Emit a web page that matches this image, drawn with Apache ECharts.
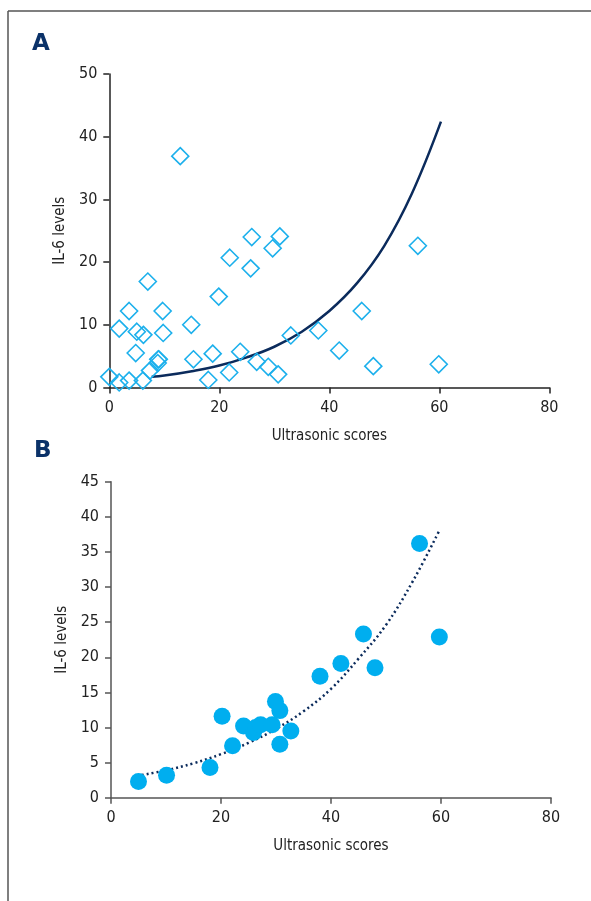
<!DOCTYPE html>
<html><head><meta charset="utf-8">
<script src="https://cdn.jsdelivr.net/npm/echarts@6/dist/echarts.min.js"></script>
<style>html,body{margin:0;padding:0;background:#fff}#c{width:591px;height:901px}</style>
</head><body><div id="c"></div>
<script>
// Panel A: ultrasonic score vs IL-6 (all points)
const aX = [0,1.8,3.6,6.1,1.8,3.6,5.0,6.2,4.8,7.0,7.4,8.9,8.8,9.0,9.7,9.8,12.9,14.9,15.3,18.0,18.8,19.9,21.8,21.9,23.8,25.7,25.9,26.8,28.9,29.7,30.7,31.0,33.0,38.0,41.8,45.9,48.0,56.1,59.9];
const aY = [1.7,0.8,1.1,1.1,9.4,12.2,8.9,8.4,5.5,16.9,2.7,4.5,3.9,4.5,12.2,8.7,36.9,10.0,4.5,1.2,5.4,14.5,2.4,20.7,5.7,19.0,24.0,4.1,3.3,22.2,2.1,24.1,8.3,9.1,5.9,12.2,3.4,22.6,3.7];
// Panel A trend curve
const aTrendX = [7.7,10,15,20,25,30,35,40,45,50,55,60.3];
const aTrendY = [1.7,1.9,2.6,3.5,4.8,6.5,8.9,12.2,16.6,22.6,30.9,42.4];
// Panel B: ultrasonic score vs IL-6 (subset)
const bX = [5.0,10.1,18.0,20.2,22.1,24.1,25.9,26.3,27.2,29.3,29.9,30.7,30.7,32.7,38.0,41.8,45.9,48.0,56.1,59.7];
const bY = [2.3,3.2,4.3,11.6,7.4,10.2,9.3,10.0,10.4,10.4,13.7,12.4,7.6,9.5,17.3,19.1,23.3,18.5,36.2,22.9];
const bTrendX = [4.7,10,15,20,25,30,35,40,45,50,55,59.6];
const bTrendY = [3.1,3.9,4.9,6.2,7.8,9.8,12.3,15.5,19.8,24.6,31.0,37.9];
// Axis ticks
const xTicks = [0,20,40,60,80];
const aYTicks = [0,10,20,30,40,50];
const bYTicks = [0,5,10,15,20,25,30,35,40,45];

const FONT = "'DejaVu Sans Condensed','DejaVu Sans',sans-serif";
const STRETCH = 'condensed';
const zip = (xs, ys) => xs.map((x, i) => [x, ys[i]]);
const txt = (size) => ({fontFamily: FONT, fontStyle: STRETCH, fontSize: size, color: '#222'});

function xAxis(grid, lineColor) {
  return {
    type: 'value', gridIndex: grid, min: xTicks[0], max: xTicks[xTicks.length-1], interval: 20,
    name: 'Ultrasonic scores', nameLocation: 'middle', nameGap: 41,
    nameTextStyle: txt(15),
    axisLine: {show: true, onZero: false, lineStyle: {color: lineColor, width: 1.5}},
    axisTick: {show: true, inside: false, length: 6, lineStyle: {color: lineColor, width: 1.5}},
    axisLabel: Object.assign(txt(16), {margin: 12}),
    splitLine: {show: false}
  };
}
function yAxis(grid, ticks, interval, lineColor) {
  return {
    type: 'value', gridIndex: grid, min: ticks[0], max: ticks[ticks.length-1], interval: interval,
    name: 'IL-6 levels', nameLocation: 'middle', nameGap: 41,
    nameTextStyle: txt(15),
    axisLine: {show: true, onZero: false, lineStyle: {color: lineColor, width: 1.5}},
    axisTick: {show: true, inside: false, length: 6, lineStyle: {color: lineColor, width: 1.5}},
    axisLabel: Object.assign(txt(16), {margin: 12}),
    splitLine: {show: false}
  };
}

const chart = echarts.init(document.getElementById('c'), null, {renderer: 'canvas'});
chart.setOption({
  animation: false,
  backgroundColor: '#fff',
  grid: [
    {left: 109.3, right: 41.7, top: 74, bottom: 513.5},
    {left: 111, right: 40, top: 481.7, bottom: 103.3}
  ],
  xAxis: [xAxis(0, '#222'), xAxis(1, '#555')],
  yAxis: [yAxis(0, aYTicks, 10, '#222'), yAxis(1, bYTicks, 5, '#555')],
  graphic: [
    {type: 'line', shape: {x1: 8, y1: 11, x2: 591, y2: 11}, style: {stroke: '#555', lineWidth: 1.5}},
    {type: 'line', shape: {x1: 8, y1: 11, x2: 8, y2: 901}, style: {stroke: '#555', lineWidth: 1.5}},
    {type: 'text', left: 32, top: 33, style: {text: 'A', font: "bold 23px 'DejaVu Sans',sans-serif", fill: '#0b3269'}},
    {type: 'text', left: 34, top: 440, style: {text: 'B', font: "bold 23px 'DejaVu Sans',sans-serif", fill: '#0b3269'}}
  ],
  series: [
    {type: 'line', xAxisIndex: 0, yAxisIndex: 0, data: zip(aTrendX, aTrendY), smooth: 0.4,
     showSymbol: false, lineStyle: {color: '#0b2b5c', width: 2.5}, z: 2},
    {type: 'scatter', xAxisIndex: 0, yAxisIndex: 0, data: zip(aX, aY), symbol: 'diamond', symbolSize: [17, 17],
     itemStyle: {color: 'rgba(0,0,0,0)', borderColor: '#1cb0ec', borderWidth: 1.6, opacity: 1}, z: 3},
    {type: 'line', xAxisIndex: 1, yAxisIndex: 1, data: zip(bTrendX, bTrendY), smooth: 0.4,
     showSymbol: false, lineStyle: {color: '#0b2b5c', width: 2.5, type: [2, 3]}, z: 2},
    {type: 'scatter', xAxisIndex: 1, yAxisIndex: 1, data: zip(bX, bY), symbol: 'circle', symbolSize: 17,
     itemStyle: {color: '#00aeef', opacity: 1}, z: 3}
  ]
});
</script></body></html>
